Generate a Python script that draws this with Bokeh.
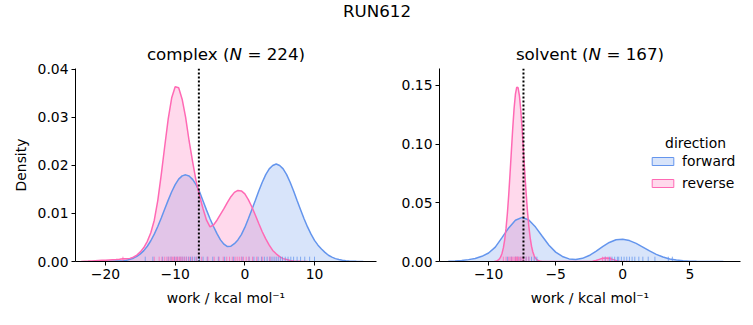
from bokeh.plotting import figure
from bokeh.layouts import column, row
from bokeh.models import (ColumnDataSource, Range1d, FixedTicker, Label, Legend,
                          LegendItem, Span)
from bokeh.embed import file_html
from bokeh.resources import INLINE

FONT = "DejaVu Sans"
FWD_COLOR = "#6495ED"
REV_COLOR = "#FF69B4"

suptitle = "RUN612"

# ---------------- complex ----------------
complex_fwd_x = [-21.0, -20.5, -20.0, -19.5, -19.0, -18.5, -18.0, -17.5, -17.0, -16.5, -16.0, -15.5,
                 -15.0, -14.5, -14.0, -13.5, -13.0, -12.5, -12.0, -11.5, -11.0, -10.5, -10.0, -9.5,
                 -9.0, -8.5, -8.0, -7.5, -7.0, -6.5, -6.0, -5.5, -5.0, -4.5, -4.0, -3.5, -3.0, -2.5,
                 -2.0, -1.5, -1.0, -0.5, 0.0, 0.5, 1.0, 1.5, 2.0, 2.5, 3.0, 3.5, 4.0, 4.5, 5.0, 5.5,
                 6.0, 6.5, 7.0, 7.5, 8.0, 8.5, 9.0, 9.5, 10.0, 10.5, 11.0, 11.5, 12.0, 12.5, 13.0,
                 13.5, 14.0, 14.5, 15.0, 15.5, 16.0, 16.5, 17.0]
complex_fwd_density = [0.00002, 0.00003, 0.00004, 0.00005, 0.00006, 0.00008, 0.0001, 0.00016, 0.00027,
                       0.00044, 0.00069, 0.00106, 0.00158, 0.00227, 0.00318, 0.00432, 0.00569, 0.00729,
                       0.00905, 0.01092, 0.01278, 0.01452, 0.01602, 0.01715, 0.01783, 0.01805, 0.0178,
                       0.0171, 0.0160, 0.0145, 0.0126, 0.0107, 0.0089, 0.0073, 0.0058, 0.0045, 0.0036,
                       0.0031, 0.0032, 0.0037, 0.0045, 0.0056, 0.0071, 0.0089, 0.0108, 0.0127, 0.0147,
                       0.0165, 0.0181, 0.0193, 0.0200, 0.0203, 0.0200, 0.0193, 0.0181, 0.0165, 0.0147,
                       0.0127, 0.0108, 0.0089, 0.0072, 0.0057, 0.0044, 0.0034, 0.0026, 0.0019, 0.0013,
                       0.0009, 0.0006, 0.0004, 0.00025, 0.00015, 0.0001, 0.00006, 0.00003, 0.00001, 0.0]

complex_rev_x = [-23.5, -23.0, -22.5, -22.0, -21.5, -21.0, -20.5, -20.0, -19.5, -19.0, -18.5, -18.0,
                 -17.5, -17.0, -16.5, -16.0, -15.5, -15.0, -14.5, -14.0, -13.5, -13.0, -12.5, -12.0,
                 -11.5, -11.0, -10.5, -10.0, -9.5, -9.0, -8.5, -8.0, -7.5, -7.0, -6.5, -6.0, -5.5,
                 -5.0, -4.5, -4.0, -3.5, -3.0, -2.5, -2.0, -1.5, -1.0, -0.5, 0.0, 0.5, 1.0, 1.5, 2.0,
                 2.5, 3.0, 3.5, 4.0, 4.5, 5.0, 5.5, 6.0, 6.5, 7.0, 7.5, 8.0, 8.5, 9.0]
complex_rev_density = [0.00002, 0.00005, 0.00008, 0.00012, 0.00016, 0.0002, 0.00024, 0.00028, 0.00032,
                       0.00036, 0.0004, 0.00046, 0.00058, 0.00055, 0.00065, 0.0009, 0.00135, 0.0020,
                       0.0029, 0.0042, 0.0060, 0.0086, 0.0127, 0.0181, 0.0240, 0.0297, 0.0341, 0.0364,
                       0.0362, 0.0338, 0.0300, 0.0251, 0.0208, 0.0168, 0.0137, 0.0110, 0.0086, 0.0072,
                       0.0076, 0.0086, 0.0098, 0.0110, 0.0123, 0.0135, 0.0144, 0.0148, 0.0147, 0.0141,
                       0.0129, 0.0114, 0.0097, 0.0079, 0.0062, 0.0047, 0.0034, 0.0023, 0.0016, 0.0010,
                       0.0006, 0.0004, 0.0002, 0.0001, 0.00006, 0.00003, 0.00001, 0.0]

complex_fwd_rug = [-14.3, -13.2, -11.8, -11.0, -10.6, -10.1, -9.7, -9.3, -9.0, -8.7, -8.4, -8.1, -7.8,
                   -7.5, -7.2, -6.9, -6.5, -6.0, -5.4, -4.6, -3.8, -2.9, -1.6, -0.4, 0.6, 1.3, 1.9,
                   2.4, 2.8, 3.2, 3.6, 3.9, 4.2, 4.5, 4.8, 5.1, 5.4, 5.8, 6.2, 6.6, 7.0, 7.5, 8.0,
                   8.6, 9.3, 10.0]
complex_rev_rug = [-17.5, -13.0, -12.3, -11.9, -11.5, -11.2, -10.9, -10.6, -10.4, -10.2, -10.0, -9.8,
                   -9.6, -9.4, -9.2, -9.0, -8.7, -8.4, -8.0, -7.6, -7.0, -6.2, -5.3, -4.4, -3.7, -3.1,
                   -2.6, -2.2, -1.8, -1.4, -1.1, -0.8, -0.5, -0.2, 0.2, 0.6, 1.1, 1.7, 2.5, 3.6]
complex_marker = -6.6
complex_title = ("complex", "224")

# ---------------- solvent ----------------
solvent_fwd_x = [-13.0, -12.5, -12.0, -11.5, -11.0, -10.5, -10.0, -9.5, -9.0, -8.5, -8.0, -7.5, -7.0,
                 -6.5, -6.0, -5.5, -5.0, -4.5, -4.0, -3.5, -3.0, -2.5, -2.0, -1.5, -1.0, -0.5, 0.0,
                 0.5, 1.0, 1.5, 2.0, 2.5, 3.0, 3.5, 4.0, 4.5, 5.0, 5.5, 6.0, 6.5, 7.0, 7.5]
solvent_fwd_density = [0.00012, 0.0004, 0.0009, 0.0016, 0.0026, 0.0044, 0.0072, 0.0122, 0.0203, 0.0286,
                       0.0351, 0.0376, 0.0353, 0.0293, 0.0215, 0.0139, 0.0080, 0.0043, 0.0022, 0.0018,
                       0.0027, 0.0051, 0.0087, 0.0126, 0.0162, 0.0185, 0.0189, 0.0178, 0.0154, 0.0123,
                       0.0090, 0.0061, 0.0038, 0.0022, 0.0012, 0.0006, 0.0003, 0.00015, 0.00006,
                       0.00003, 0.00001, 0.0]

solvent_rev_x = [-9.6, -9.5, -9.4, -9.3, -9.2, -9.1, -9.0, -8.9, -8.8, -8.7, -8.6, -8.5, -8.4, -8.3,
                 -8.2, -8.1, -8.0, -7.9, -7.8, -7.7, -7.6, -7.5, -7.4, -7.3, -7.2, -7.1, -7.0, -6.9,
                 -6.8, -6.7, -6.6, -6.5, -6.4, -6.3, -6.2, -6.0, -5.5, -5.0, -4.5, -4.0, -3.5, -3.0,
                 -2.5, -2.25, -2.0, -1.75, -1.5, -1.25, -1.0, -0.75, -0.5, -0.25, 0.0, 0.5]
solvent_rev_density = [0.0001, 0.00025, 0.00055, 0.0011, 0.0021, 0.0039, 0.0069, 0.0116, 0.0185, 0.0282,
                       0.0409, 0.0567, 0.0749, 0.0944, 0.1135, 0.1302, 0.1425, 0.1486, 0.1480, 0.1411,
                       0.1288, 0.1126, 0.0943, 0.0756, 0.0580, 0.0426, 0.0300, 0.0202, 0.0130, 0.0081,
                       0.0048, 0.0027, 0.0015, 0.0008, 0.0004, 0.0001, 0.0, 0.0, 0.0, 0.0, 0.0, 0.0,
                       0.0001, 0.0003, 0.0008, 0.0018, 0.0027, 0.0030, 0.0027, 0.0018, 0.0009, 0.0003,
                       0.0001, 0.0]

solvent_fwd_rug = [-8.6, -8.3, -8.0, -7.8, -7.6, -7.4, -7.2, -7.0, -6.8, -6.6, -6.4, -1.3, -1.0, -0.8,
                   -0.6, -0.4, -0.3, -0.1, 0.1, 0.3, 0.5, 0.7, 0.9, 1.2, 1.5, 1.9, 2.4, 3.4, 3.7]
solvent_rev_rug = [-8.9, -8.7, -8.5, -8.4, -8.3, -8.2, -8.1, -8.0, -7.95, -7.9, -7.85, -7.8, -7.7,
                   -7.6, -7.5, -7.4, -7.2, -7.0, -1.5, -1.3, -1.1, -0.9]
solvent_marker = -7.4
solvent_title = ("solvent", "167")

# ---------------- axes ----------------
complex_xrange = (-24.31, 18.9)
complex_yrange = (0.0, 0.0402)
complex_xticks = [-20, -10, 0, 10]
complex_xlabels = ["\u221220", "\u221210", "0", "10"]
complex_yticks = [0.0, 0.01, 0.02, 0.03, 0.04]
complex_ylabels = ["0.00", "0.01", "0.02", "0.03", "0.04"]

solvent_xrange = (-13.66, 8.78)
solvent_yrange = (0.0, 0.1644)
solvent_xticks = [-10, -5, 0, 5]
solvent_xlabels = ["\u221210", "\u22125", "0", "5"]
solvent_yticks = [0.0, 0.05, 0.10, 0.15]
solvent_ylabels = ["0.00", "0.05", "0.10", "0.15"]

directions = ["forward", "reverse"]
legend_title = "direction"
xlabel = "work / kcal mol\u207b\u00b9"
ylabel = "Density"

TICK_FS = "13.9px"
TITLE_FS = "16.7px"
TOP_H = 62          # height of the title strip
FRAME_W = 301
P1_LEFT, P1_W = 75, 392
P2_LEFT, P2_W = 47, 361


def style_axes(p, xticks, xlabels, yticks, ylabels):
    p.xaxis.ticker = FixedTicker(ticks=xticks)
    p.yaxis.ticker = FixedTicker(ticks=yticks)
    p.xaxis.major_label_overrides = dict(zip(xticks, xlabels))
    p.yaxis.major_label_overrides = dict(zip(yticks, ylabels))
    for ax in (p.xaxis, p.yaxis):
        ax.major_tick_in = 0
        ax.major_tick_out = 4
        ax.minor_tick_line_color = None
        ax.axis_line_color = "black"
        ax.axis_line_width = 1
        ax.major_tick_line_width = 1
        ax.major_label_text_font = FONT
        ax.major_label_text_font_size = TICK_FS
        ax.major_label_text_color = "black"
        ax.major_label_standoff = 3
        ax.axis_label_text_font = FONT
        ax.axis_label_text_font_size = TICK_FS
        ax.axis_label_text_font_style = "normal"
        ax.axis_label_text_color = "black"
    p.xaxis.axis_label = xlabel
    p.xaxis.axis_label_standoff = 8
    p.grid.visible = False
    p.outline_line_color = None


def make_panel(width, left, right, xr, yr, curves, rugs, marker,
               xticks, xlabels, yticks, ylabels, legend=False, ylab=None):
    p = figure(width=width, height=325 - TOP_H, output_backend="svg", toolbar_location=None,
               title=None, x_range=Range1d(*xr), y_range=Range1d(*yr),
               min_border_left=left, min_border_right=right,
               min_border_top=68 - TOP_H, min_border_bottom=64)
    style_axes(p, xticks, xlabels, yticks, ylabels)
    if ylab:
        p.yaxis.axis_label = ylab
        p.yaxis.axis_label_standoff = 6

    colors = [FWD_COLOR, REV_COLOR]
    sources = [ColumnDataSource(dict(x=cx, y=cy)) for cx, cy in curves]
    for src, col in zip(sources, colors):
        p.varea(x="x", y1=0, y2="y", source=src, fill_color=col, fill_alpha=0.25)
    for src, col in zip(sources, colors):
        p.line(x="x", y="y", source=src, line_color=col, line_width=1.5)

    rug_h = 0.025 * yr[1]
    for vals, col in zip(rugs, colors):
        src = ColumnDataSource(dict(w=vals))
        p.segment(x0="w", y0=0, x1="w", y1=rug_h, source=src, line_color=col,
                  line_alpha=0.75, line_width=1)

    p.add_layout(Span(location=marker, dimension="height", line_color="black",
                      line_width=2, line_dash="2 2"))

    if legend:
        items = []
        for d, (cx, cy), col in zip(directions, curves, colors):
            # zero-size swatch at the curve's first grid point; only used for the legend glyph
            src = ColumnDataSource(dict(l=[cx[0]], r=[cx[0]], b=[cy[0]], t=[cy[0]]))
            r = p.quad(left="l", right="r", bottom="b", top="t", source=src,
                       fill_color=col, fill_alpha=0.25, line_color=col, line_width=1)
            items.append(LegendItem(label=d, renderers=[r]))
        lg = Legend(items=items, location=(210, 68), orientation="vertical", padding=0, margin=0,
                    spacing=2, glyph_width=27, glyph_height=10, label_standoff=6,
                    label_height=20, label_text_font=FONT, label_text_font_size=TICK_FS,
                    label_text_color="black", border_line_color=None, background_fill_alpha=0)
        p.add_layout(lg)
        p.add_layout(Label(text=legend_title, x=xr[0], y=yr[0], x_offset=256, y_offset=119,
                           text_align="center", text_baseline="middle", text_font=FONT,
                           text_font_size=TICK_FS, text_color="black"))
    return p


p1 = make_panel(P1_W, P1_LEFT, P1_W - P1_LEFT - FRAME_W, complex_xrange, complex_yrange,
                [(complex_fwd_x, complex_fwd_density), (complex_rev_x, complex_rev_density)],
                [complex_fwd_rug, complex_rev_rug], complex_marker,
                complex_xticks, complex_xlabels, complex_yticks, complex_ylabels, ylab=ylabel)
p2 = make_panel(P2_W, P2_LEFT, P2_W - P2_LEFT - FRAME_W, solvent_xrange, solvent_yrange,
                [(solvent_fwd_x, solvent_fwd_density), (solvent_rev_x, solvent_rev_density)],
                [solvent_fwd_rug, solvent_rev_rug], solvent_marker,
                solvent_xticks, solvent_xlabels, solvent_yticks, solvent_ylabels, legend=True)

# ---------------- title strip (suptitle + panel titles with italic N) ----------------
tfig = figure(width=753, height=TOP_H, output_backend="svg", toolbar_location=None, title=None,
              x_range=Range1d(0, 753), y_range=Range1d(0, TOP_H), x_axis_type=None,
              y_axis_type=None, min_border=0)
tfig.outline_line_color = None
tfig.grid.visible = False
tfig.add_layout(Label(text=suptitle, x=376.5, y=TOP_H - 10, text_align="center",
                      text_baseline="alphabetic", text_font=FONT, text_font_size=TITLE_FS,
                      text_color="black"))

EM = 16.7
name_w = {"complex": 4.951 * EM, "solvent": 4.352 * EM}
n_w, sp_w, rest_w = 0.748 * EM, 0.318 * EM, 3.455 * EM
for (name, n), frame_left in ((complex_title, P1_LEFT), (solvent_title, P1_W + P2_LEFT)):
    total = name_w[name] + n_w + sp_w + rest_w
    x0 = frame_left + FRAME_W / 2 - total / 2
    common = dict(y=TOP_H - 53, text_font=FONT, text_font_size=TITLE_FS,
                  text_baseline="alphabetic", text_color="black", text_align="left")
    tfig.add_layout(Label(text=name + " (", x=x0, **common))
    tfig.add_layout(Label(text="N", x=x0 + name_w[name], text_font_style="italic", **common))
    tfig.add_layout(Label(text="= " + n + ")", x=x0 + name_w[name] + n_w + sp_w, **common))

layout = column(tfig, row(p1, p2))
open("out.html", "w").write(file_html(layout, INLINE))
